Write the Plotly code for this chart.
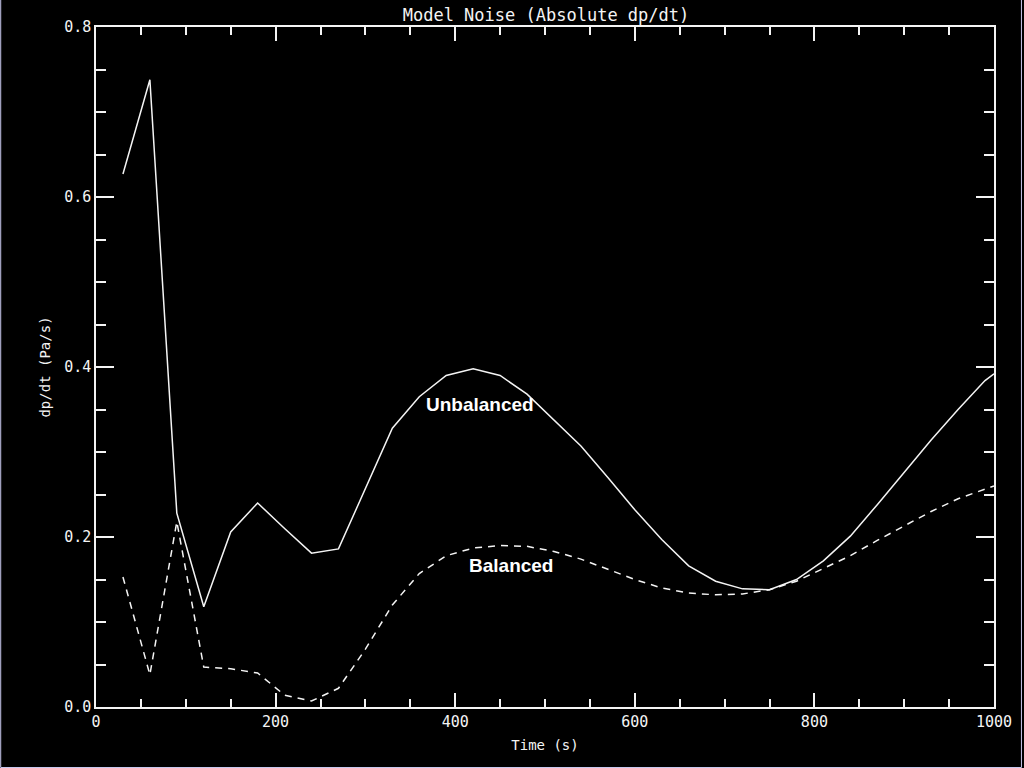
import plotly.graph_objects as go

# ---- data ----
time_s = [30, 60, 90, 120, 150, 180, 210, 240, 270, 300, 330, 360, 390, 420, 450,
          480, 510, 540, 570, 600, 630, 660, 690, 720, 750, 780, 810, 840, 870,
          900, 930, 960, 990, 1000]

unbalanced = [0.627, 0.738, 0.228, 0.118, 0.206, 0.240, 0.210, 0.181, 0.186, 0.257,
              0.328, 0.365, 0.390, 0.398, 0.390, 0.368, 0.338, 0.307, 0.270, 0.232,
              0.197, 0.166, 0.148, 0.139, 0.138, 0.150, 0.172, 0.201, 0.238, 0.276,
              0.314, 0.350, 0.384, 0.392]

balanced = [0.153, 0.038, 0.218, 0.047, 0.045, 0.040, 0.014, 0.007, 0.022, 0.068,
            0.120, 0.157, 0.178, 0.187, 0.190, 0.189, 0.183, 0.174, 0.162, 0.150,
            0.140, 0.134, 0.132, 0.133, 0.138, 0.148, 0.163, 0.178, 0.196, 0.213,
            0.230, 0.245, 0.256, 0.260]

x_ticks = [0, 200, 400, 600, 800, 1000]
y_ticks = [0.0, 0.2, 0.4, 0.6, 0.8]

title_text = "Model Noise (Absolute dp/dt)"
x_title = "Time (s)"
y_title = "dp/dt (Pa/s)"
label_unbal = ("Unbalanced", 428, 0.356)
label_bal = ("Balanced", 462, 0.166)

WHITE = "#f4f4f4"
MONO = "DejaVu Sans Mono, monospace"

fig = go.Figure()
fig.add_trace(go.Scatter(x=time_s, y=unbalanced, mode="lines",
                         line=dict(color=WHITE, width=1.5), name="Unbalanced",
                         showlegend=False))
fig.add_trace(go.Scatter(x=time_s, y=balanced, mode="lines",
                         line=dict(color=WHITE, width=1.5, dash="7px,6px"),
                         name="Balanced", showlegend=False))

for txt, xv, yv in (label_unbal, label_bal):
    fig.add_annotation(x=xv, y=yv, text=txt, showarrow=False,
                       font=dict(family="Liberation Sans, Arial, sans-serif",
                                 size=19, color="white", weight="bold"))

# thin light frame around the whole picture, as in the reference
fig.add_shape(type="rect", xref="paper", yref="paper",
              x0=-95.5 / 900, x1=(1024 - 96.5) / 900,
              y0=-60.5 / 680, y1=(768 - 27.5) / 680,
              line=dict(color="#c8c8ee", width=1), layer="above")

fig.update_layout(
    width=1024, height=768,
    margin=dict(l=96, r=28, t=27, b=61),
    paper_bgcolor="black", plot_bgcolor="black",
    font=dict(family=MONO, color=WHITE),
    title=dict(text=title_text, x=546 / 1024, xanchor="center",
               y=1 - 15 / 768, yanchor="middle",
               font=dict(family=MONO, size=17, color=WHITE)),
)

fig.update_xaxes(
    range=[0, 1000], tickvals=x_ticks, ticktext=[str(v) for v in x_ticks],
    ticks="inside", ticklen=14, tickwidth=1.5, tickcolor=WHITE,
    showline=True, linecolor=WHITE, linewidth=1.5, mirror="ticks",
    showgrid=False, zeroline=False,
    tickfont=dict(family=MONO, size=15, color=WHITE),
    minor=dict(dtick=50, tick0=0, ticks="inside", ticklen=8, tickwidth=1.5,
               tickcolor=WHITE, showgrid=False),
    title=dict(text=x_title, font=dict(family=MONO, size=14, color=WHITE),
               standoff=10),
)
fig.update_yaxes(
    range=[0, 0.8], tickvals=y_ticks, ticktext=[f"{v:.1f}" for v in y_ticks],
    ticks="inside", ticklen=18, tickwidth=1.5, tickcolor=WHITE,
    showline=True, linecolor=WHITE, linewidth=1.5, mirror="ticks",
    showgrid=False, zeroline=False,
    tickfont=dict(family=MONO, size=15, color=WHITE),
    minor=dict(dtick=0.05, tick0=0, ticks="inside", ticklen=10, tickwidth=1.5,
               tickcolor=WHITE, showgrid=False),
    title=dict(text=y_title, font=dict(family=MONO, size=14, color=WHITE),
               standoff=10),
)

fig.write_html("out.html",
               config={"displayModeBar": False},
               post_script="document.body.style.margin='0';"
                           "document.body.style.background='black';")
